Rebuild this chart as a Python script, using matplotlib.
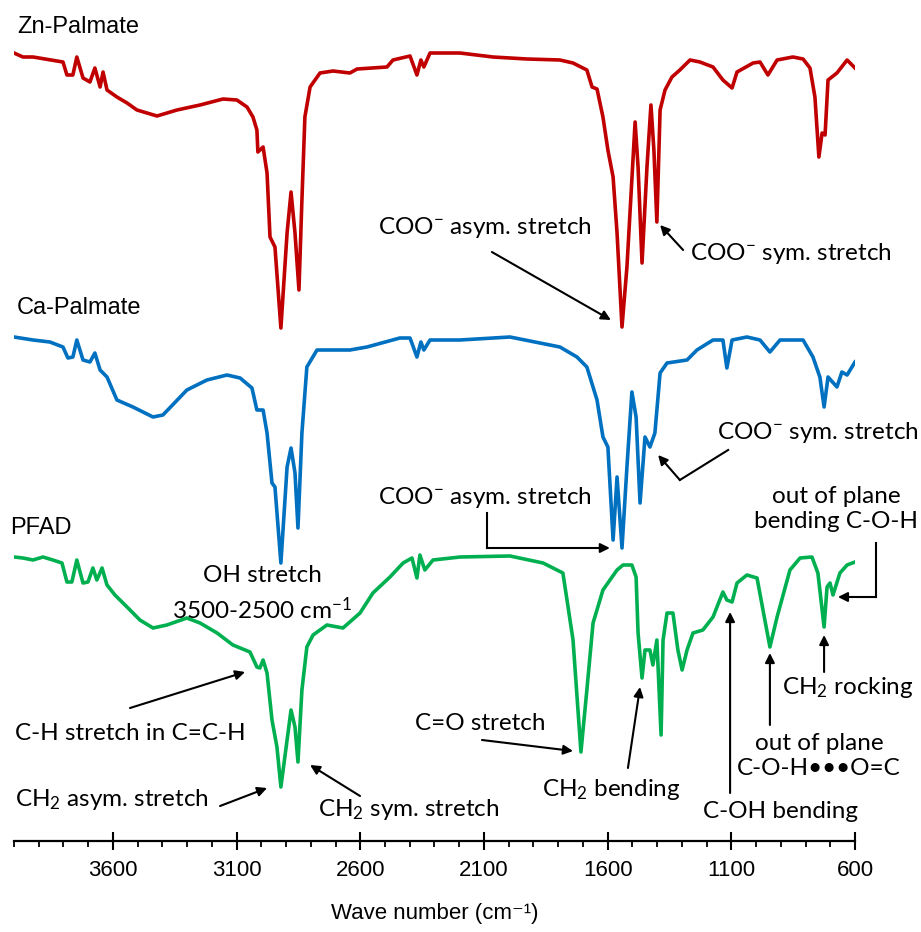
import matplotlib
matplotlib.use("Agg")
import matplotlib.pyplot as plt

plt.rcParams['mathtext.fontset'] = 'custom'
plt.rcParams['mathtext.rm'] = 'Lato'
plt.rcParams['mathtext.it'] = 'Lato:italic'

# spectra (wavenumber cm-1, offset transmittance in arbitrary units)
wn_zn = [4000, 3964, 3923, 3802, 3786, 3762, 3746, 3721, 3693, 3673, 3652, 3640, 3624, 3584, 3543,
         3503, 3422, 3341, 3248, 3155, 3099, 3058, 3034, 3018, 3014, 2993, 2977, 2965, 2945, 2921,
         2896, 2880, 2864, 2848, 2836, 2824, 2803, 2763, 2710, 2642, 2613, 2492, 2468, 2399, 2371,
         2355, 2343, 2318, 2197, 2064, 1926, 1793, 1740, 1684, 1663, 1643, 1619, 1599, 1578, 1562,
         1542, 1522, 1489, 1477, 1461, 1441, 1425, 1413, 1401, 1388, 1368, 1340, 1308, 1267, 1227,
         1174, 1134, 1097, 1077, 1012, 984, 952, 915, 851, 810, 782, 762, 746, 733, 721, 709, 673,
         632, 600]
t_zn = [787, 783, 783, 778, 765, 765, 783, 762, 758, 772, 753, 768, 750, 743, 737,
        730, 724, 730, 735, 741, 740, 733, 723, 710, 688, 693, 667, 603, 593, 512,
        607, 648, 607, 550, 640, 723, 753, 767, 769, 767, 771, 773, 780, 784, 765,
        780, 773, 787, 787, 783, 781, 780, 777, 770, 753, 751, 723, 690, 663, 607,
        513, 573, 718, 673, 577, 673, 735, 690, 618, 730, 750, 763, 770, 780, 778,
        773, 760, 752, 768, 777, 778, 765, 780, 783, 781, 772, 743, 683, 707, 705, 760, 767,
        780, 772]

wn_ca = [4000, 3923, 3855, 3802, 3782, 3762, 3746, 3721, 3693, 3673, 3652, 3624, 3584, 3519, 3438,
         3398, 3301, 3220, 3139, 3086, 3038, 3018, 2993, 2977, 2957, 2945, 2921, 2896, 2880, 2864,
         2852, 2836, 2816, 2775, 2710, 2642, 2573, 2440, 2399, 2371, 2355, 2343, 2318, 2197, 1995,
         1793, 1724, 1684, 1643, 1619, 1599, 1578, 1562, 1542, 1522, 1502, 1485, 1469, 1449, 1429,
         1409, 1388, 1360, 1279, 1239, 1174, 1134, 1118, 1097, 1037, 984, 944, 903, 810, 770, 742,
         725, 709, 673, 653, 632, 600]
t_ca = [503, 500, 498, 493, 482, 483, 500, 480, 478, 487, 470, 463, 440, 433, 423,
        425, 450, 460, 465, 462, 452, 430, 430, 407, 357, 353, 277, 373, 392, 367,
        312, 407, 473, 490, 490, 490, 493, 502, 502, 483, 498, 490, 500, 500, 503,
        493, 483, 473, 440, 403, 393, 300, 363, 292, 373, 448, 423, 337, 403, 393,
        407, 467, 477, 480, 490, 500, 500, 472, 500, 503, 500, 488, 500, 500, 483, 463,
        433, 463, 453, 468, 465, 478]

wn_pfad = [4000, 3964, 3923, 3883, 3843, 3806, 3786, 3766, 3746, 3721, 3701, 3681, 3665, 3644, 3624,
           3592, 3543, 3491, 3438, 3382, 3301, 3248, 3179, 3115, 3046, 3018, 3006, 2993, 2977, 2957,
           2937, 2921, 2896, 2880, 2864, 2852, 2836, 2816, 2791, 2735, 2670, 2601, 2549, 2480, 2427,
           2391, 2371, 2359, 2339, 2306, 2197, 1995, 1861, 1805, 1781, 1760, 1740, 1708, 1684, 1659,
           1619, 1562, 1538, 1502, 1485, 1477, 1461, 1449, 1429, 1417, 1401, 1384, 1376, 1360, 1336,
           1316, 1299, 1279, 1255, 1215, 1174, 1134, 1118, 1097, 1077, 1037, 996, 972, 944, 915,
           863, 822, 774, 750, 725, 713, 701, 689, 661, 632, 600]
t_pfad = [283, 282, 280, 283, 280, 277, 258, 258, 280, 257, 258, 272, 260, 272, 255,
          245, 233, 220, 212, 215, 222, 217, 207, 195, 188, 173, 172, 180, 167, 120,
          93, 53, 100, 130, 113, 78, 150, 193, 205, 215, 212, 227, 247, 263, 277,
          282, 262, 285, 270, 280, 283, 284, 277, 270, 267, 233, 200, 88, 150, 217,
          250, 270, 275, 275, 263, 207, 162, 190, 190, 175, 200, 105, 200, 227, 227,
          190, 170, 190, 207, 210, 223, 248, 240, 238, 257, 265, 262, 230, 193, 223,
          270, 282, 283, 267, 213, 253, 257, 245, 267, 275, 278]

major_ticks = [3600, 3100, 2600, 2100, 1600, 1100, 600]

fig = plt.figure(figsize=(9.21, 9.32), dpi=100)
ax = fig.add_axes([14 / 921, 91 / 932, 841 / 921, 841 / 932])

ax.plot(wn_zn, t_zn, color='#C00000', lw=2.6, solid_joinstyle='round')
ax.plot(wn_ca, t_ca, color='#0070C0', lw=2.6, solid_joinstyle='round')
ax.plot(wn_pfad, t_pfad, color='#00B050', lw=2.6, solid_joinstyle='round')

ax.set_xlim(4000, 600)
ax.set_ylim(-1, 840)
for s in ['left', 'right', 'top']:
    ax.spines[s].set_visible(False)
ax.spines['bottom'].set_linewidth(1.6)
ax.set_yticks([])
ax.set_xticks(major_ticks)
ax.set_xticks(list(range(4000, 599, -100)), minor=True)
ax.tick_params(axis='x', which='major', direction='inout', length=13, width=1.5, pad=7)
ax.tick_params(axis='x', which='minor', direction='out', length=4, width=1.3)
narrow = ['Liberation Sans Narrow', 'Liberation Sans', 'DejaVu Sans']
for lab in ax.get_xticklabels():
    lab.set_fontfamily(narrow)
    lab.set_fontsize(16)
ax.set_xlabel('Wave number (cm⁻¹)', family=narrow, fontsize=16, labelpad=16)

sans = ['Liberation Sans', 'DejaVu Sans']
ax.text(3988, 813, 'Zn-Palmate', family=sans, fontsize=17, va='center', ha='left')
ax.text(3988, 532, 'Ca-Palmate', family=sans, fontsize=17, va='center', ha='left')
ax.text(4016, 312, 'PFAD', family=sans, fontsize=17, va='center', ha='left', clip_on=False)

fs = 17.5
tf = ['Lato', 'DejaVu Sans']
arr = dict(arrowstyle='-|>', color='black', lw=1.5, mutation_scale=14, shrinkA=0, shrinkB=0)


def note(text, xy, xytext, **kw):
    ax.annotate('', xy=xy, xytext=xytext, arrowprops=arr, annotation_clip=False)
    ax.text(*kw.pop('pos'), text, family=tf, fontsize=fs, **kw)


# Zn-Palmate
note('COO$^{-}$ asym. stretch', (1587, 520), (2068, 588), pos=(2096, 613), ha='center', va='center')
note('COO$^{-}$ sym. stretch', (1388, 615), (1295, 590), pos=(1267, 587), ha='left', va='center')

# Ca-Palmate
ax.plot([1113, 1308], [390, 360], color='black', lw=1.5)
note('COO$^{-}$ sym. stretch', (1396, 385), (1308, 360), pos=(1158, 408), ha='left', va='center',
     clip_on=False)
ax.plot([2088, 2088], [327, 292], color='black', lw=1.5)
note('COO$^{-}$ asym. stretch', (1591, 292), (2088, 292), pos=(2096, 343), ha='center', va='center')

# PFAD
ax.text(2997, 265, 'OH stretch', family=tf, fontsize=fs, ha='center', va='center')
ax.text(2997, 230, '3500-2500 cm$^{-1}$', family=tf, fontsize=fs, ha='center', va='center')
ax.plot([515, 515], [297, 243], color='black', lw=1.5, clip_on=False)
note('out of plane\nbending C-O-H', (669, 243), (515, 243), pos=(677, 331), ha='center',
     va='center', linespacing=1.2, clip_on=False)
note('C-H stretch in C=C-H', (3066, 168), (3531, 132), pos=(3996, 107), ha='left', va='center')
note('CH$_2$ asym. stretch', (2977, 52), (3167, 34), pos=(3996, 40), ha='left', va='center')
note('CH$_2$ sym. stretch', (2803, 75), (2601, 44), pos=(2771, 31), ha='left', va='center')
note('C=O stretch', (1740, 89), (2108, 100), pos=(2116, 117), ha='center', va='center')
note('CH$_2$ bending', (1469, 153), (1518, 72), pos=(1587, 50), ha='center', va='center')
note('C-OH bending', (1105, 228), (1105, 47), pos=(903, 28), ha='center', va='center', clip_on=False)
note('out of plane\nC-O-H•••O=C', (944, 187), (944, 115), pos=(746, 84), ha='center',
     va='center', linespacing=1.2, clip_on=False)
note('CH$_2$ rocking', (725, 205), (725, 168), pos=(895, 153), ha='left', va='center', clip_on=False)

fig.savefig('out.png', dpi=100)
